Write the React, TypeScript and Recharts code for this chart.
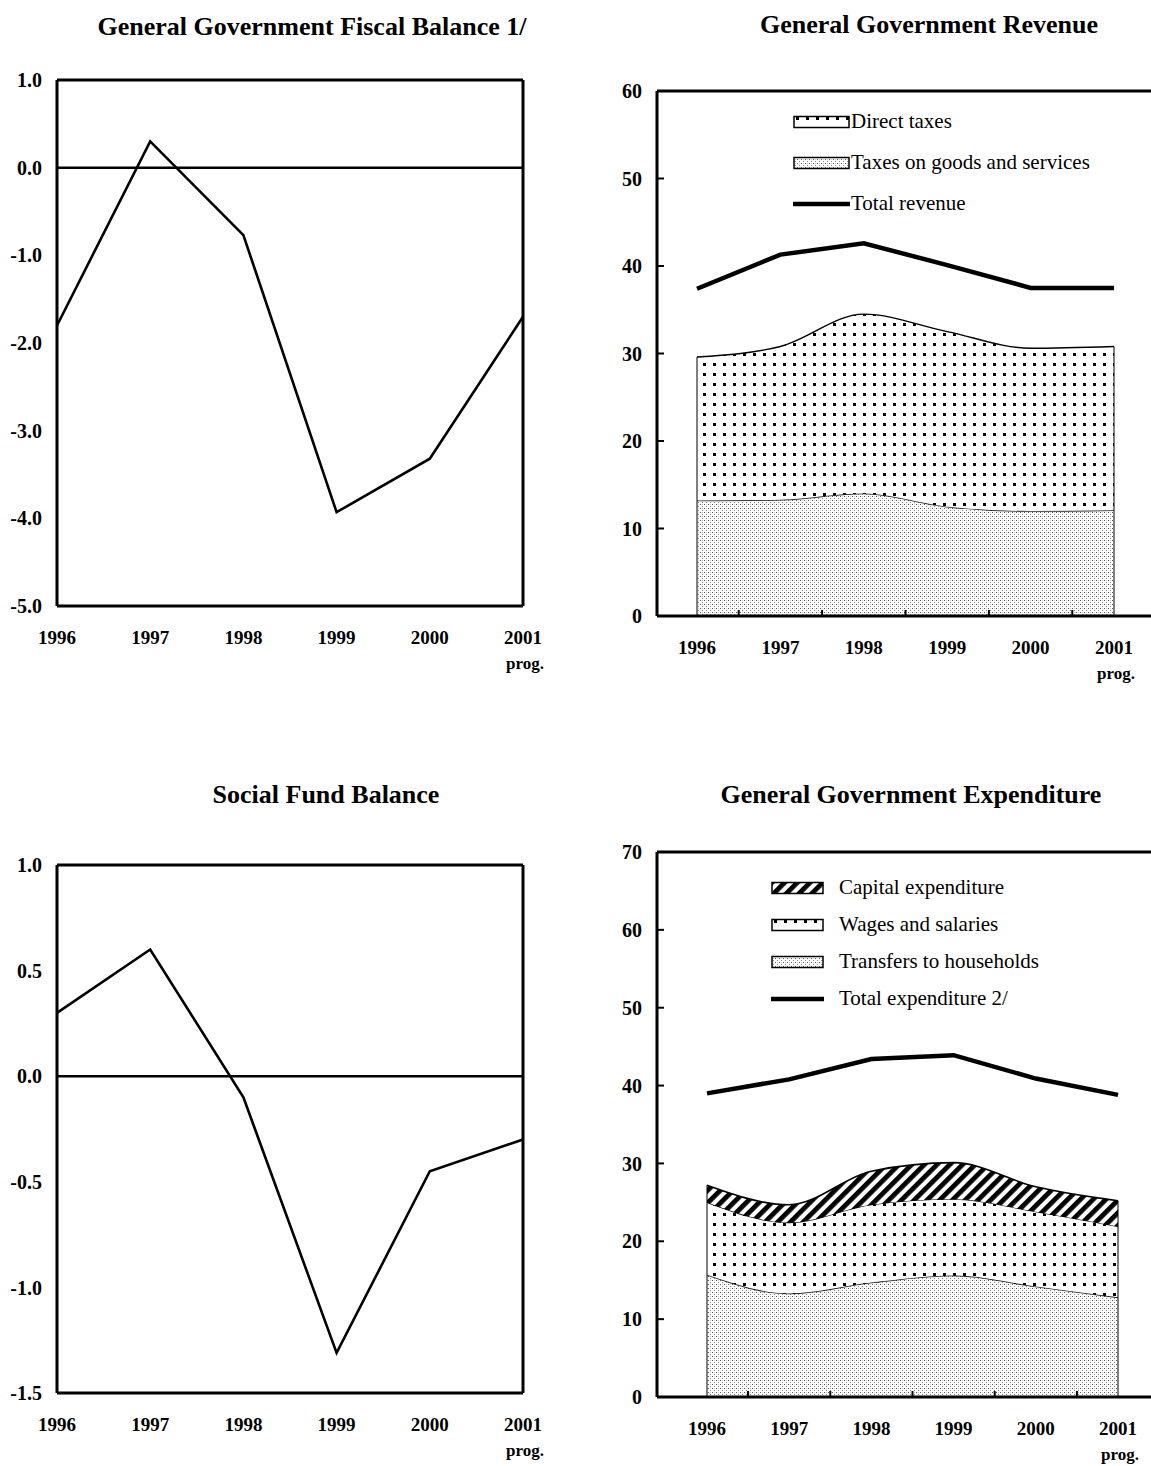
import React from 'react';
import { LineChart, Line, ComposedChart, Area, XAxis, YAxis, ReferenceLine, Legend } from 'recharts';

// ---------- data ----------
const years = ['1996', '1997', '1998', '1999', '2000', '2001'];
const yearNotes = ['', '', '', '', '', 'prog.'];

const fiscalBalance = [-1.8, 0.3, -0.77, -3.93, -3.32, -1.7];
const fiscalTicks = [1, 0, -1, -2, -3, -4, -5];

const socialFund = [0.3, 0.6, -0.1, -1.31, -0.45, -0.3];
const socialTicks = [1, 0.5, 0, -0.5, -1, -1.5];

const goodsTaxes = [13.2, 13.3, 14.0, 12.5, 12.0, 12.1];
const directTaxes = [16.4, 17.5, 20.5, 20.0, 18.6, 18.7];
const totalRevenue = [37.4, 41.3, 42.6, 40.1, 37.5, 37.5];
const revenueTicks = [0, 10, 20, 30, 40, 50, 60];
const revenueNames = ['Direct taxes', 'Taxes on goods and services', 'Total revenue'];

const transfers = [15.7, 13.3, 14.7, 15.6, 14.2, 12.8];
const wages = [9.3, 9.1, 10.0, 9.8, 9.6, 9.1];
const capital = [2.2, 2.3, 4.3, 4.7, 3.2, 3.3];
const totalExpenditure = [39.0, 40.8, 43.4, 43.9, 40.9, 38.8];
const expenditureTicks = [0, 10, 20, 30, 40, 50, 60, 70];
const expenditureNames = ['Capital expenditure', 'Wages and salaries', 'Transfers to households', 'Total expenditure 2/'];

const titles = [
  'General Government Fiscal Balance 1/',
  'General Government Revenue',
  'Social Fund Balance',
  'General Government Expenditure',
];

// ---------- tables for the library ----------
const fiscalData = years.map((y, i) => ({ year: y, value: fiscalBalance[i] }));
const socialData = years.map((y, i) => ({ year: y, value: socialFund[i] }));
const revenueData = years.map((y, i) => ({
  year: y,
  goods: goodsTaxes[i],
  direct: directTaxes[i],
  total: totalRevenue[i],
}));
const expenditureData = years.map((y, i) => ({
  year: y,
  transfers: transfers[i],
  wages: wages[i],
  capital: capital[i],
  total: totalExpenditure[i],
}));
const last = years.length - 1;
const revStackTop = (i: number) => goodsTaxes[i] + directTaxes[i];
const expStackTop = (i: number) => transfers[i] + wages[i] + capital[i];

// ---------- styles ----------
const FONT = "'Liberation Serif', 'Times New Roman', serif";
const FRAME = { stroke: '#000', strokeWidth: 3 };

const YearTick = (props: any) => {
  const { x, y, payload, step } = props;
  const idx = years.indexOf(payload.value);
  const note = idx >= 0 ? yearNotes[idx] : '';
  const isLast = idx === years.length - 1;
  return (
    <g>
      <text x={x} y={y + 38} textAnchor="middle" fontFamily={FONT} fontWeight="bold" fontSize={19} fill="#000">
        {payload.value}
      </text>
      {note ? (
        <text x={x + 21} y={y + 63} textAnchor="end" fontFamily={FONT} fontWeight="bold" fontSize={17} fill="#000">
          {note}
        </text>
      ) : null}
      {step && !isLast ? (
        <line x1={x + step / 2} x2={x + step / 2} y1={y} y2={y - 6} stroke="#000" strokeWidth={2} />
      ) : null}
    </g>
  );
};

const ValueTick = (props: any) => {
  const { x, y, payload, decimals, inner } = props;
  const label = decimals ? Number(payload.value).toFixed(1) : String(payload.value);
  return (
    <g>
      <text x={x} y={y} dy="0.355em" textAnchor="end" fontFamily={FONT} fontWeight="bold" fontSize={20} fill="#000">
        {label}
      </text>
      {inner ? <line x1={x + 15} x2={x + 22} y1={y} y2={y} stroke="#000" strokeWidth={2} /> : null}
    </g>
  );
};

const Title = ({ text, cx, cy }: { text: string; cx: number; cy: number }) => (
  <div
    style={{
      position: 'absolute',
      left: cx - 300,
      top: cy - 15,
      width: 600,
      height: 30,
      lineHeight: '30px',
      textAlign: 'center',
      fontFamily: FONT,
      fontWeight: 'bold',
      fontSize: 26,
      color: '#000',
      whiteSpace: 'nowrap',
    }}
  >
    {text}
  </div>
);

const Swatch = ({ fill, line, w }: { fill?: string; line?: boolean; w: number }) => (
  <svg width={w} height={16} style={{ display: 'block', flex: 'none' }}>
    {line ? (
      <line x1={0} x2={w} y1={8} y2={8} stroke="#000" strokeWidth={4.5} />
    ) : (
      <rect x={1} y={2.5} width={w - 2} height={11} fill={fill} stroke="#000" strokeWidth={1.5} />
    )}
  </svg>
);

const makeLegend = (
  items: { name: string; fill?: string; line?: boolean }[],
  rowH: number,
  swW: number,
  gap: number
) => () => (
  <div style={{ fontFamily: FONT, fontSize: 21, color: '#000' }}>
    {items.map((it) => (
      <div key={it.name} style={{ display: 'flex', alignItems: 'center', height: rowH, whiteSpace: 'nowrap' }}>
        <Swatch fill={it.fill} line={it.line} w={swW} />
        <span style={{ marginLeft: gap }}>{it.name}</span>
      </div>
    ))}
  </div>
);

const Patterns = ({ p }: { p: string }) => (
  <defs>
    <pattern id={`${p}dots`} width="10" height="10" patternUnits="userSpaceOnUse">
      <rect width="10" height="10" fill="#fff" />
      <rect x="3" y="3" width="3" height="3" fill="#000" />
    </pattern>
    <pattern id={`${p}stip`} width="4" height="4" patternUnits="userSpaceOnUse">
      <rect width="4" height="4" fill="#fff" />
      <rect x="0" y="0" width="1" height="1" fill="#555" />
      <rect x="2" y="2" width="1" height="1" fill="#888" />
      <rect x="2" y="0" width="1" height="1" fill="#d0d0d0" />
    </pattern>
    <pattern id={`${p}hatch`} width="9" height="9" patternUnits="userSpaceOnUse" patternTransform="rotate(45)">
      <rect width="9" height="9" fill="#fff" />
      <rect width="4.8" height="9" fill="#000" />
    </pattern>
  </defs>
);

const BalanceChart = ({
  data,
  ticks,
  top,
  height,
  marginTop,
  marginBottom,
}: {
  data: any[];
  ticks: number[];
  top: number;
  height: number;
  marginTop: number;
  marginBottom: number;
}) => (
  <div style={{ position: 'absolute', left: 0, top }}>
    <LineChart
      width={560}
      height={height}
      data={data}
      margin={{ top: marginTop, right: 37, left: 0, bottom: marginBottom }}
    >
      <XAxis
        dataKey="year"
        height={60}
        tickLine={false}
        tickSize={0}
        tickMargin={0}
        axisLine={FRAME}
        interval={0}
        tick={(p: any) => <YearTick {...p} />}
      />
      <YAxis
        type="number"
        domain={[ticks[ticks.length - 1], ticks[0]]}
        ticks={ticks}
        width={57}
        tickLine={false}
        tickSize={0}
        tickMargin={15}
        axisLine={FRAME}
        interval={0}
        allowDataOverflow
        tick={(p: any) => <ValueTick {...p} decimals />}
      />
      <ReferenceLine y={ticks[0]} stroke="#000" strokeWidth={3} />
      <ReferenceLine x={years[last]} stroke="#000" strokeWidth={3} />
      <ReferenceLine y={0} stroke="#000" strokeWidth={2.5} />
      <Line
        type="linear"
        dataKey="value"
        stroke="#000"
        strokeWidth={2.6}
        dot={false}
        isAnimationActive={false}
      />
    </LineChart>
  </div>
);

export default function App() {
  const revStep = (1154 - 657 - 80) / 5;
  const expStep = (1168 - 657 - 100) / 5;
  return (
    <div
      style={{
        position: 'absolute',
        left: 0,
        top: 0,
        width: 1151,
        height: 1466,
        overflow: 'hidden',
        background: '#fff',
      }}
    >
      <Title text={titles[0]} cx={312} cy={27} />
      <Title text={titles[1]} cx={929} cy={25} />
      <Title text={titles[2]} cx={326} cy={795} />
      <Title text={titles[3]} cx={911} cy={795} />

      <BalanceChart data={fiscalData} ticks={fiscalTicks} top={0} height={700} marginTop={80} marginBottom={34} />
      <BalanceChart data={socialData} ticks={socialTicks} top={760} height={706} marginTop={105} marginBottom={13} />

      {/* Revenue */}
      <div style={{ position: 'absolute', left: 600, top: 0 }}>
        <ComposedChart width={600} height={700} data={revenueData} margin={{ top: 91, right: 46, left: 0, bottom: 24 }}>
          <Patterns p="rev" />
          <XAxis
            dataKey="year"
            height={60}
            padding={{ left: 40, right: 40 }}
            tickLine={false}
            tickSize={0}
            tickMargin={0}
            axisLine={FRAME}
            interval={0}
            tick={(p: any) => <YearTick {...p} step={revStep} />}
          />
          <YAxis
            type="number"
            domain={[0, 60]}
            ticks={revenueTicks}
            width={57}
            tickLine={false}
            tickSize={0}
            tickMargin={15}
            axisLine={FRAME}
            interval={0}
            tick={(p: any) => <ValueTick {...p} inner />}
          />
          <ReferenceLine y={revenueTicks[revenueTicks.length - 1]} stroke="#000" strokeWidth={3} />
          <Legend
            verticalAlign="middle"
            align="center"
            layout="horizontal"
            wrapperStyle={{ left: 193, top: 101, width: 360 }}
            content={makeLegend(
              [
                { name: revenueNames[0], fill: 'url(#revdots)' },
                { name: revenueNames[1], fill: 'url(#revstip)' },
                { name: revenueNames[2], line: true },
              ],
              41,
              57,
              1
            )}
          />
          <Area
            type="monotone"
            dataKey="goods"
            stackId="r"
            stroke="#222"
            strokeWidth={1.6}
            fill="url(#revstip)"
            fillOpacity={1}
            isAnimationActive={false}
          />
          <Area
            type="monotone"
            dataKey="direct"
            stackId="r"
            stroke="#000"
            strokeWidth={1.4}
            fill="url(#revdots)"
            fillOpacity={1}
            isAnimationActive={false}
          />
          <ReferenceLine
            segment={[{ x: years[0], y: 0 }, { x: years[0], y: revStackTop(0) }]}
            stroke="#000"
            strokeWidth={1}
          />
          <ReferenceLine
            segment={[{ x: years[last], y: 0 }, { x: years[last], y: revStackTop(last) }]}
            stroke="#000"
            strokeWidth={1}
          />
          <Line
            type="linear"
            dataKey="total"
            stroke="#000"
            strokeWidth={4.5}
            dot={false}
            isAnimationActive={false}
          />
        </ComposedChart>
      </div>

      {/* Expenditure */}
      <div style={{ position: 'absolute', left: 600, top: 760 }}>
        <ComposedChart width={600} height={706} data={expenditureData} margin={{ top: 92, right: 32, left: 0, bottom: 9 }}>
          <Patterns p="exp" />
          <XAxis
            dataKey="year"
            height={60}
            padding={{ left: 50, right: 50 }}
            tickLine={false}
            tickSize={0}
            tickMargin={0}
            axisLine={FRAME}
            interval={0}
            tick={(p: any) => <YearTick {...p} step={expStep} />}
          />
          <YAxis
            type="number"
            domain={[0, 70]}
            ticks={expenditureTicks}
            width={57}
            tickLine={false}
            tickSize={0}
            tickMargin={15}
            axisLine={FRAME}
            interval={0}
            tick={(p: any) => <ValueTick {...p} inner />}
          />
          <ReferenceLine y={expenditureTicks[expenditureTicks.length - 1]} stroke="#000" strokeWidth={3} />
          <Legend
            verticalAlign="middle"
            align="center"
            layout="horizontal"
            wrapperStyle={{ left: 171, top: 109, width: 330 }}
            content={makeLegend(
              [
                { name: expenditureNames[0], fill: 'url(#exphatch)' },
                { name: expenditureNames[1], fill: 'url(#expdots)' },
                { name: expenditureNames[2], fill: 'url(#expstip)' },
                { name: expenditureNames[3], line: true },
              ],
              37,
              53,
              15
            )}
          />
          <Area
            type="monotone"
            dataKey="transfers"
            stackId="e"
            stroke="#222"
            strokeWidth={1.6}
            fill="url(#expstip)"
            fillOpacity={1}
            isAnimationActive={false}
          />
          <Area
            type="monotone"
            dataKey="wages"
            stackId="e"
            stroke="#000"
            strokeWidth={1.2}
            fill="url(#expdots)"
            fillOpacity={1}
            isAnimationActive={false}
          />
          <Area
            type="monotone"
            dataKey="capital"
            stackId="e"
            stroke="#000"
            strokeWidth={1.6}
            fill="url(#exphatch)"
            fillOpacity={1}
            isAnimationActive={false}
          />
          <ReferenceLine
            segment={[{ x: years[0], y: 0 }, { x: years[0], y: expStackTop(0) }]}
            stroke="#000"
            strokeWidth={1}
          />
          <ReferenceLine
            segment={[{ x: years[last], y: 0 }, { x: years[last], y: expStackTop(last) }]}
            stroke="#000"
            strokeWidth={1}
          />
          <Line
            type="linear"
            dataKey="total"
            stroke="#000"
            strokeWidth={4.5}
            dot={false}
            isAnimationActive={false}
          />
        </ComposedChart>
      </div>
    </div>
  );
}
